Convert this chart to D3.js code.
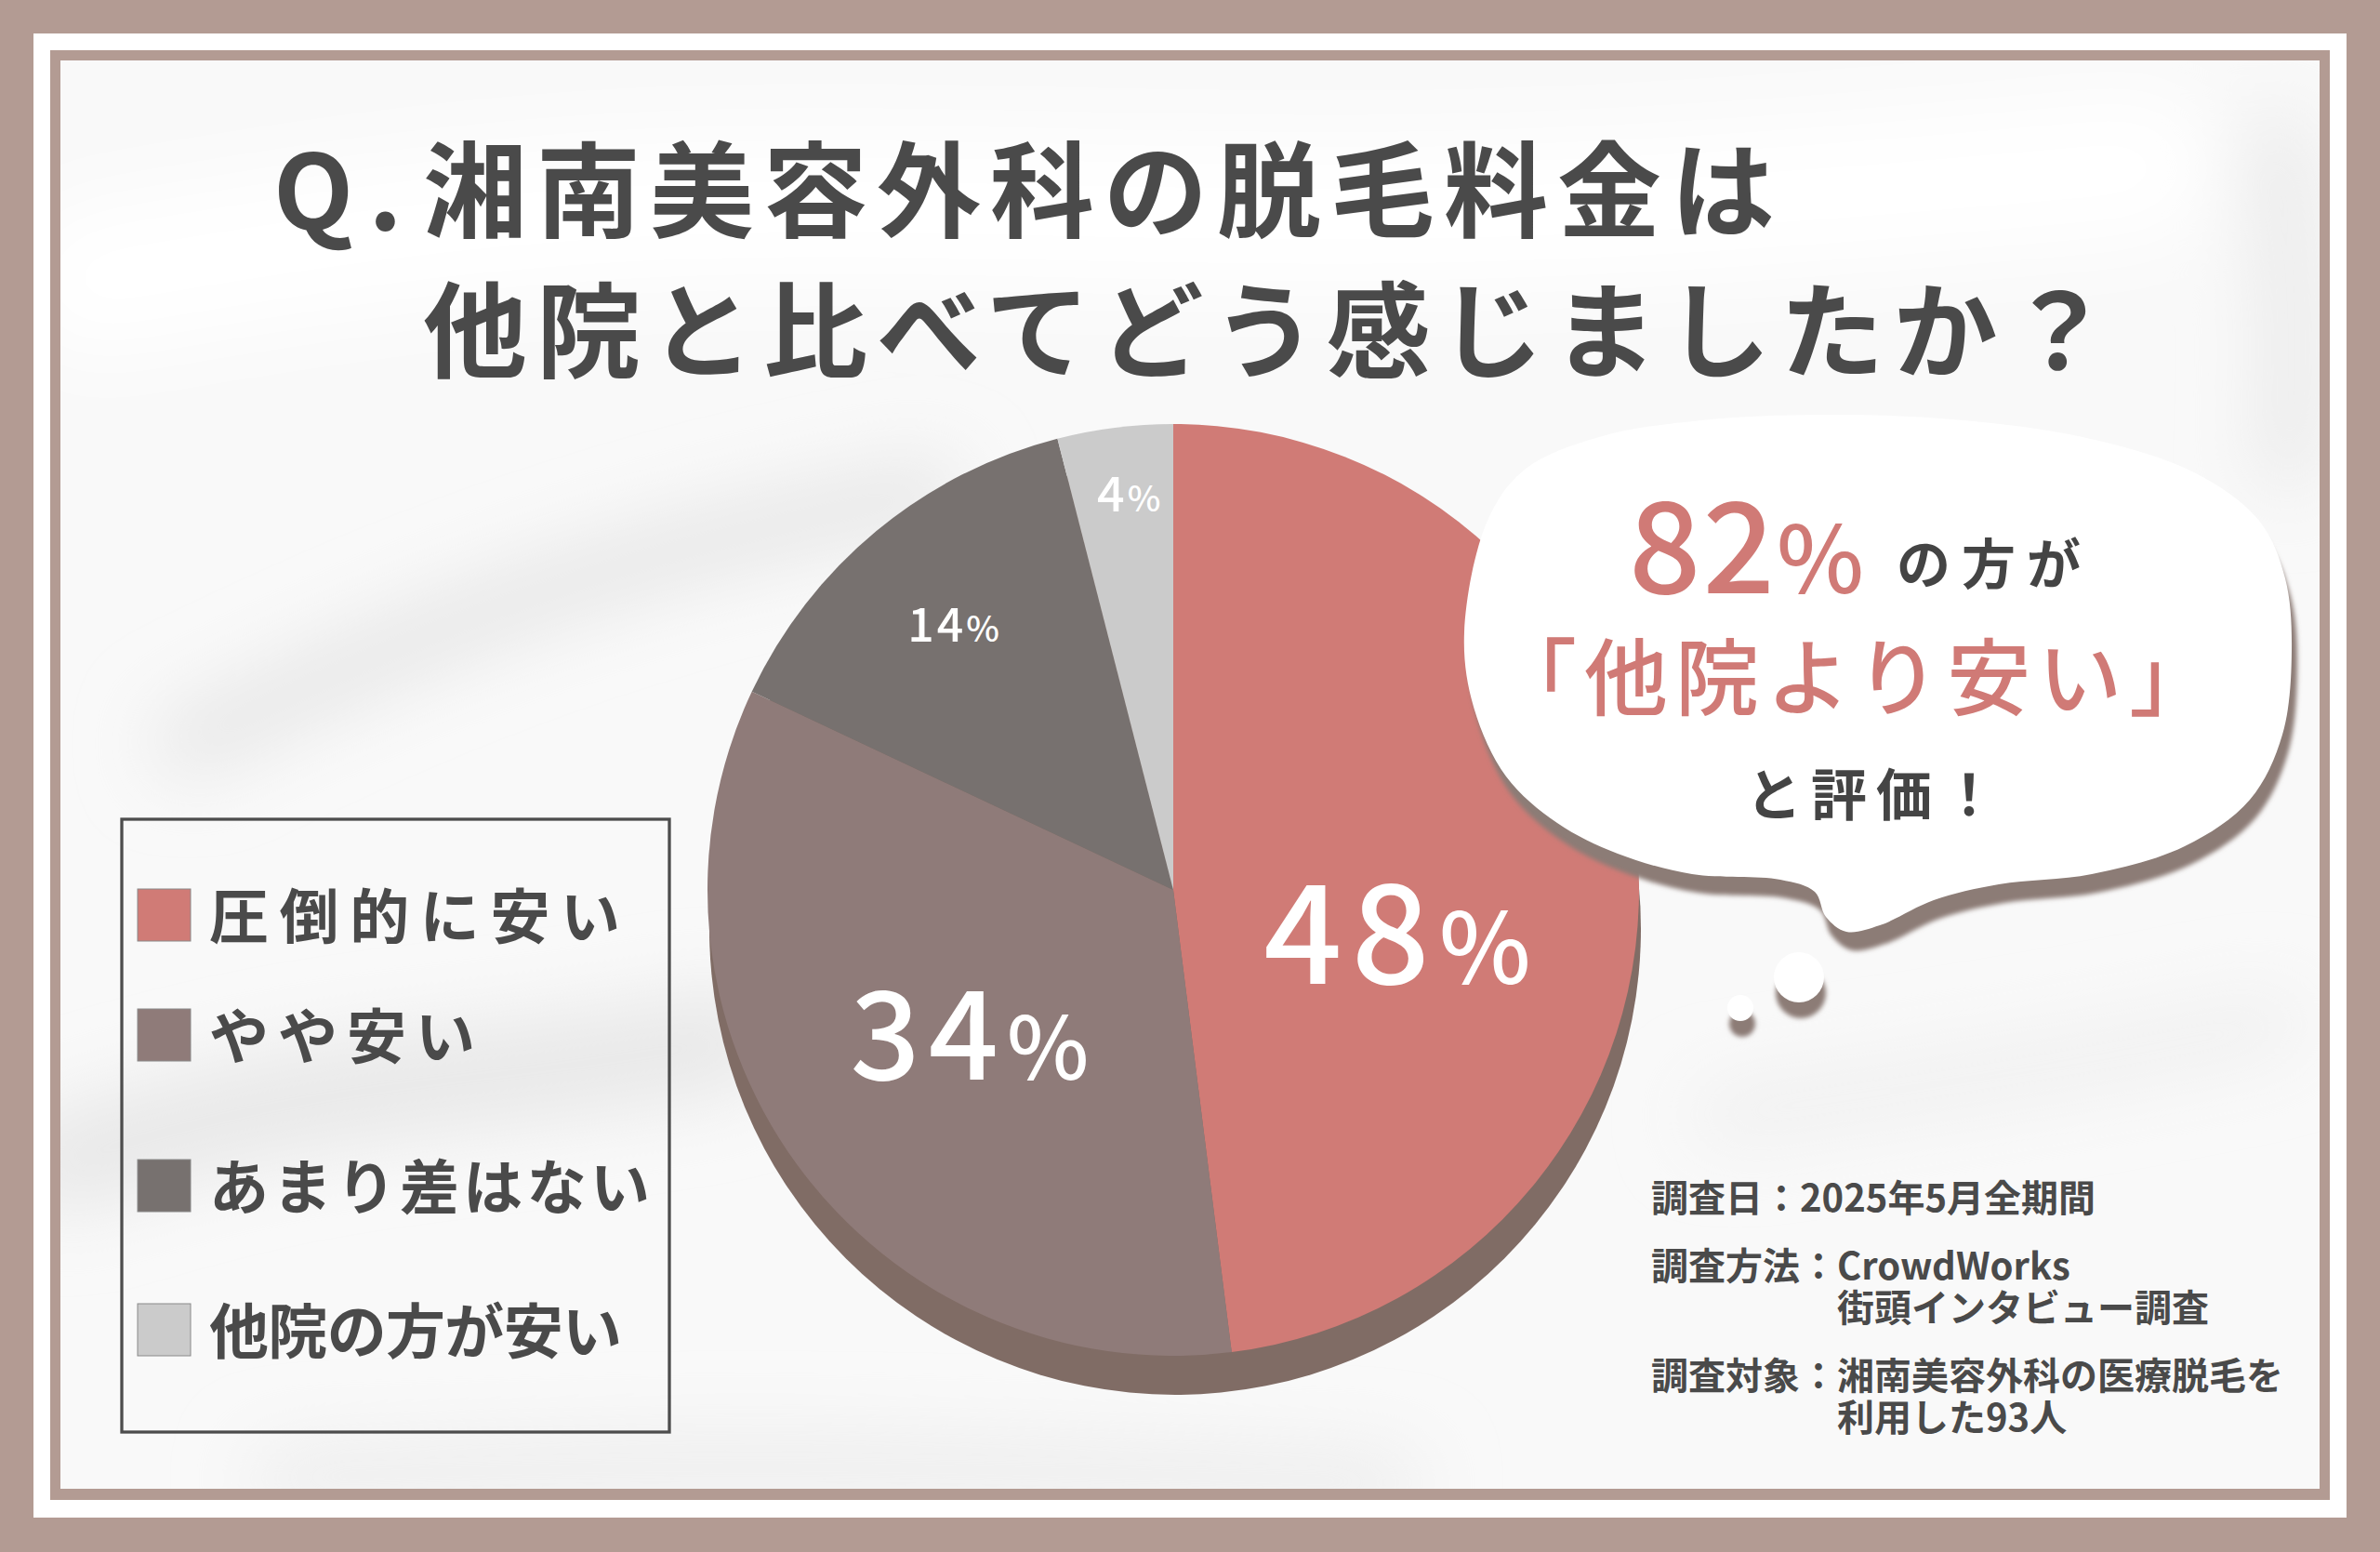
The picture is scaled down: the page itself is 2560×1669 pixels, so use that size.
<!DOCTYPE html>
<html><head><meta charset="utf-8">
<script src="https://cdn.jsdelivr.net/npm/d3@7"></script>
<style>
html,body{margin:0;padding:0;background:#b39b93;}
svg{display:block;}
text{font-family:"Noto Sans CJK JP","Noto Sans",sans-serif;}
</style></head><body>
<svg id="chart" width="2560" height="1669"></svg>
<script>
// ---------- data ----------
const categories = ["圧倒的に安い", "やや安い", "あまり差はない", "他院の方が安い"];
const values = [48, 34, 14, 4];
const colors = ["#d07b76", "#8f7b79", "#77716f", "#cbcbcb"];
const titlePrefix = "Q.";
const titleLines = ["湘南美容外科の脱毛料金は", "他院と比べてどう感じましたか？"];
const calloutValue = 82;
const calloutLines = ["の方が", "「他院より安い」", "と評価！"];
const noteBlocks = [
  ["調査日：2025年5月全期間"],
  ["調査方法：CrowdWorks", "街頭インタビュー調査"],
  ["調査対象：湘南美容外科の医療脱毛を", "利用した93人"]
];

// ---------- layout (not data) ----------
const W = 2560, H = 1669;
const pieCx = 1262, pieCy = 957, pieR = 501;
const labelLayout = [
  {r: 0.49, da: 14.7, fs: 148, pfs: 105, ls: 10},
  {r: 0.537, da: 0.5, fs: 132, pfs: 94, ls: 9},
  {r: 0.74, da: 0, fs: 50, pfs: 38, ls: 3},
  {r: 0.855, da: 0.8, fs: 52, pfs: 38, ls: 3}
];
const legendRowCY = [984, 1113, 1275, 1430];
const legendTextW = [442, 286, 474, 444];
const noteY = [1303, 1376, 1494];
const noteX = 1776, noteIndentX = 1976, noteLineGap = 45;
const pink = "#d07a76", ink = "#4a4a4a";

const svg = d3.select("#chart");
const defs = svg.append("defs");
defs.append("filter").attr("id","blurBig").attr("x","-50%").attr("y","-50%").attr("width","200%").attr("height","200%")
  .append("feGaussianBlur").attr("stdDeviation", 40);
defs.append("filter").attr("id","blurSm").attr("x","-20%").attr("y","-20%").attr("width","140%").attr("height","140%")
  .append("feGaussianBlur").attr("stdDeviation", 2.5);
defs.append("clipPath").attr("id","content").append("rect")
  .attr("x", 65).attr("y", 65).attr("width", 2430).attr("height", 1536);

// frame
svg.append("rect").attr("width", W).attr("height", H).attr("fill", "#b39b93");
svg.append("rect").attr("x", 36).attr("y", 36).attr("width", W - 72).attr("height", H - 73).attr("fill", "#ffffff");
svg.append("rect").attr("x", 54).attr("y", 54).attr("width", W - 108).attr("height", H - 110).attr("fill", "#b39b93");
svg.append("rect").attr("x", 65).attr("y", 65).attr("width", 2430).attr("height", 1536).attr("fill", "#f9f9f9");

// subtle silk background
const bg = svg.append("g").attr("clip-path", "url(#content)").append("g").attr("filter", "url(#blurBig)");
const silk = d3.line().curve(d3.curveBasis);
const streaks = [
  {pts: [[200,800],[450,680],[750,580],[1000,530]], w: 70, c: "#e6e6e6"},
  {pts: [[65,1250],[300,1180],[600,1150],[780,1120]], w: 110, c: "#e8e8e8"},
  {pts: [[300,1590],[800,1570],[1500,1595]], w: 60, c: "#ebebeb"},
  {pts: [[2450,150],[2470,350],[2460,500]], w: 60, c: "#e8e8e8"},
  {pts: [[1850,1200],[2200,1150],[2450,1100]], w: 60, c: "#efefef"},
  {pts: [[100,300],[700,200],[1500,250],[2300,180]], w: 160, c: "#ffffff"}
];
streaks.forEach(s => bg.append("path").attr("d", silk(s.pts)).attr("fill","none")
  .attr("stroke", s.c).attr("stroke-width", s.w).attr("stroke-linecap","round"));

// ---------- title ----------
const tg = svg.append("g").attr("fill", ink).style("font-weight", 700).style("font-size", "112px");
tg.append("text").attr("x", 294).attr("y", 247).style("letter-spacing", "16px").text(titlePrefix);
titleLines.forEach((t, i) => tg.append("text").attr("x", 455).attr("y", 247 + i * 151)
  .style("letter-spacing", "10px").text(t));

// ---------- pie ----------
const pie = d3.pie().sort(null).value(d => d).startAngle(0).endAngle(2 * Math.PI);
const arcs = pie(values);
const arc = d3.arc().innerRadius(0).outerRadius(pieR);
const pg = svg.append("g").attr("transform", `translate(${pieCx},${pieCy})`);
pg.append("path").attr("transform", "translate(2,42)")
  .attr("d", arc({startAngle: 0, endAngle: 2 * Math.PI})).attr("fill", "#806c65");
pg.selectAll("path.slice").data(arcs).join("path").attr("class", "slice")
  .attr("d", arc).attr("fill", (d, i) => colors[i]);

// ---------- callout bubble ----------
const bubblePts = [[1600,560],[1640,505],[1720,470],[1830,452],[1960,446],[2100,451],[2240,470],[2360,508],[2430,560],
  [2458,622],[2465,700],[2455,790],[2420,860],[2350,910],[2250,940],[2150,951],[2080,968],[2022,995],[1986,1002],
  [1964,986],[1952,959],[1915,946],[1820,940],[1740,918],[1675,885],[1620,835],[1585,760],[1575,680]];
const blob = d3.line().curve(d3.curveCatmullRomClosed.alpha(0.5));
svg.append("path").attr("d", blob(bubblePts)).attr("transform", "translate(6,20)")
  .attr("fill", "#8c7b76").attr("filter", "url(#blurSm)");
svg.append("path").attr("d", blob(bubblePts)).attr("fill", "#ffffff");
const dots = [[1935,1051,27],[1872,1084,14]];
dots.forEach(d => {
  svg.append("circle").attr("cx", d[0] + 2).attr("cy", d[1] + 17).attr("r", d[2]).attr("fill", "#8c7b76").attr("filter", "url(#blurSm)");
  svg.append("circle").attr("cx", d[0]).attr("cy", d[1]).attr("r", d[2]).attr("fill", "#ffffff");
});

// slice labels
const lg = svg.append("g").attr("transform", `translate(${pieCx},${pieCy})`);
arcs.forEach((a, i) => {
  const L = labelLayout[i];
  const ang = (a.startAngle + a.endAngle) / 2 + L.da * Math.PI / 180;
  const x = Math.sin(ang) * pieR * L.r, y = -Math.cos(ang) * pieR * L.r;
  const t = lg.append("text").attr("x", x).attr("y", y + 0.365 * L.fs)
    .attr("text-anchor", "middle").attr("fill", "#ffffff").style("font-weight", 500);
  t.append("tspan").style("font-size", L.fs + "px").style("letter-spacing", L.ls + "px").text(values[i]);
  t.append("tspan").style("font-size", L.pfs + "px").text("%");
});

// callout text
const ct = svg.append("text").attr("x", 1752).attr("y", 638).style("font-weight", 500);
ct.append("tspan").attr("fill", pink).style("font-size", "136px").style("letter-spacing", "2px").text(calloutValue);
ct.append("tspan").attr("fill", pink).style("font-size", "100px").text("%");
svg.append("text").attr("x", 2040).attr("y", 628).attr("fill", "#444").style("font-weight", 700)
  .style("font-size", "58px").style("letter-spacing", "12px").text(calloutLines[0]);
svg.append("text").attr("x", 1606).attr("y", 762).attr("fill", pink).style("font-weight", 500)
  .style("font-size", "90px").style("letter-spacing", "8px").text(calloutLines[1]);
svg.append("text").attr("x", 1878).attr("y", 877).attr("fill", "#444").style("font-weight", 700)
  .style("font-size", "60px").style("letter-spacing", "10px").text(calloutLines[2]);

// ---------- legend ----------
svg.append("rect").attr("x", 131).attr("y", 881).attr("width", 589).attr("height", 659)
  .attr("fill", "none").attr("stroke", "#4d4d4d").attr("stroke-width", 3.3);
const leg = svg.append("g");
categories.forEach((c, i) => {
  const cy = legendRowCY[i];
  leg.append("rect").attr("x", 148).attr("y", cy - 28).attr("width", 57).attr("height", 56)
    .attr("fill", colors[i]).attr("stroke", "#8a8a8a").attr("stroke-width", 1);
  leg.append("text").attr("x", 225).attr("y", cy + 25).attr("fill", ink)
    .style("font-weight", 700).style("font-size", "64px")
    .attr("textLength", legendTextW[i]).attr("lengthAdjust", "spacing").text(c);
});

// ---------- notes ----------
noteBlocks.forEach((lines, i) => {
  const t = svg.append("text").attr("fill", ink).style("font-weight", 700).style("font-size", "40px");
  lines.forEach((ln, j) => t.append("tspan")
    .attr("x", j === 0 ? noteX : noteIndentX)
    .attr("y", noteY[i] + j * noteLineGap).text(ln));
});
</script>
</body></html>
